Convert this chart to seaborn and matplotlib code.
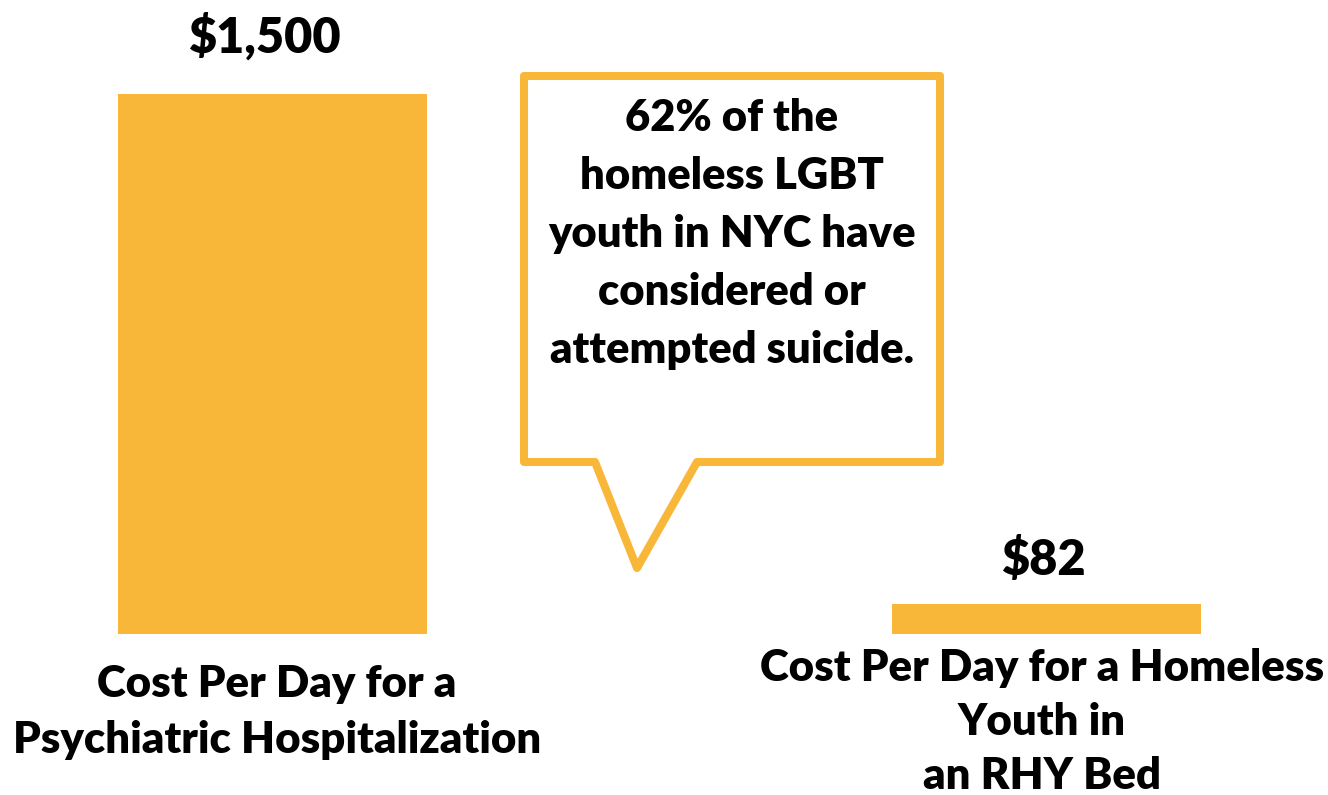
import matplotlib
matplotlib.use("Agg")
import matplotlib.pyplot as plt
from matplotlib.patches import Polygon
import seaborn as sns
import pandas as pd

categories = ["Cost Per Day for a\nPsychiatric Hospitalization",
              "Cost Per Day for a Homeless\nYouth in\nan RHY Bed"]
values = [1500, 82]
value_labels = ["$1,500", "$82"]
callout_lines = ["62% of the", "homeless LGBT", "youth in NYC have",
                 "considered or", "attempted suicide."]

BAR = "#F9B73A"
W, H = 1328, 795

sns.set_theme(style="white")
plt.rcParams['font.family'] = ['Lato', 'DejaVu Sans']

fig = plt.figure(figsize=(W / 100, H / 100), dpi=100)
ax = fig.add_axes([0, 0, 1, 1])
df = pd.DataFrame({"cat": categories, "val": values})
sns.barplot(data=df, x="cat", y="val", color=BAR, saturation=1, width=0.4, ax=ax)
for p in ax.patches:
    p.set_edgecolor("none")

ax.set_xlim(-272.5 / 774, 1 + (W - 1046.5) / 774)
ax.set_ylim(-161 / 540 * 1500, 634 / 540 * 1500)
ax.axis("off")

def fx(px):
    return px / W

def fy(py):
    return 1 - py / H

WEIGHT = "heavy"

# value labels (offset in points above bar top, to baseline)
offsets = [30, 21]
for i, (v, lab) in enumerate(zip(values, value_labels)):
    ax.annotate(lab, xy=(i, v), xytext=(-6 if i == 0 else -2, offsets[i]),
                textcoords="offset points", ha="center", va="baseline",
                fontsize=35, fontweight=WEIGHT, color="black")

# category labels, line by line
label_specs = [(277, 697, 55.5), (1042, 681, 54)]
for cat, (cx, base, step) in zip(categories, label_specs):
    for k, line in enumerate(cat.split("\n")):
        fig.text(fx(cx), fy(base + step * k), line, ha="center", va="baseline",
                 fontsize=31.5, fontweight=WEIGHT, color="black")

# callout bubble
pts = [(524, 76), (940, 76), (940, 462), (697, 462), (637, 568), (595, 462), (524, 462)]
poly = Polygon([(fx(x), fy(y)) for x, y in pts], closed=True, transform=fig.transFigure,
               facecolor="white", edgecolor=BAR, linewidth=5.8, joinstyle="round")
fig.add_artist(poly)

for k, line in enumerate(callout_lines):
    fig.text(fx(732), fy(131 + 58 * k), line, ha="center", va="baseline", fontsize=31.3,
             fontweight=WEIGHT, color="black")

fig.savefig("out.png", dpi=100, facecolor="white")
